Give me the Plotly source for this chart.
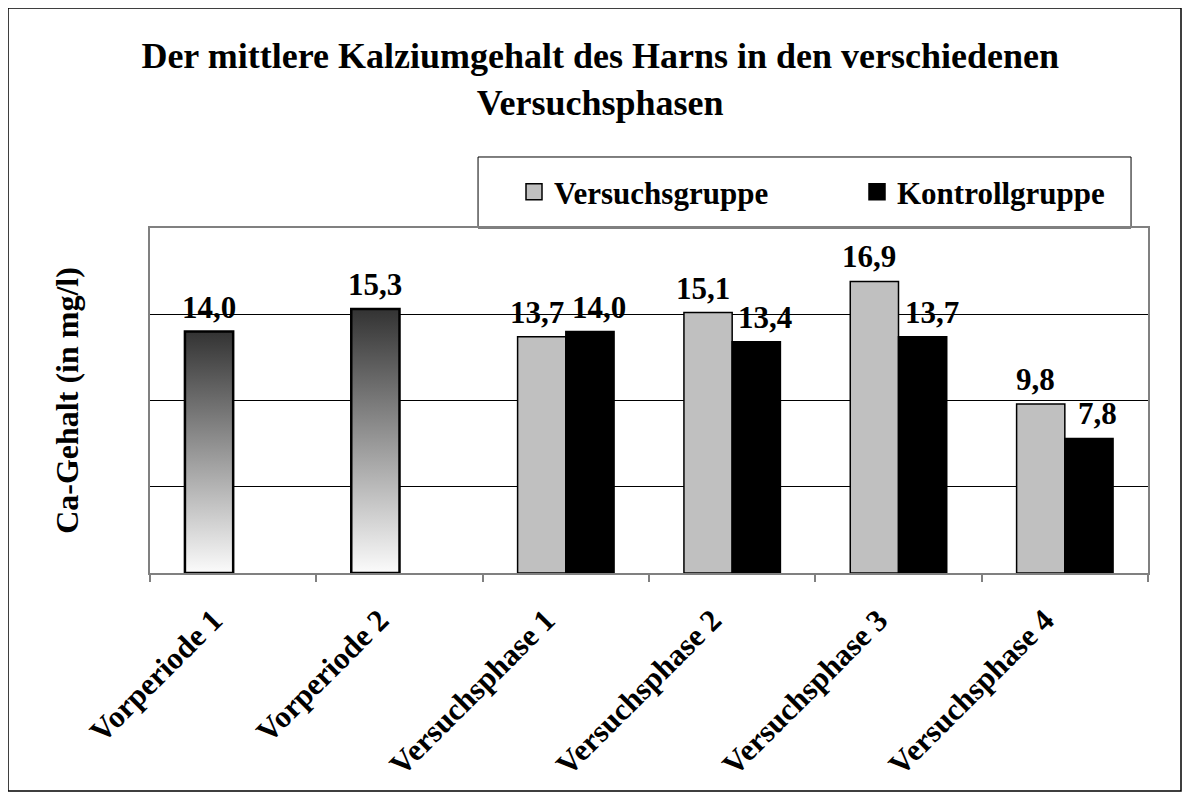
import plotly.graph_objects as go

categories = ["Vorperiode 1", "Vorperiode 2", "Versuchsphase 1",
              "Versuchsphase 2", "Versuchsphase 3", "Versuchsphase 4"]
vorperiode = [14.0, 15.3, None, None, None, None]
versuchsgruppe = [None, None, 13.7, 15.1, 16.9, 9.8]
kontrollgruppe = [None, None, 14.0, 13.4, 13.7, 7.8]

FONT = "Liberation Serif"
W = 0.29  # bar width in category units
pos = list(range(len(categories)))


def fmt(v):
    return f"{v:.1f}".replace(".", ",")


fig = go.Figure()

# gradient-filled bars of the pre-periods (white at the base, dark at the top)
for i, v in zip(pos, vorperiode):
    if v is None:
        continue
    fig.add_trace(go.Scatter(
        x=[i - W, i - W, i, i, i - W], y=[0, v, v, 0, 0],
        mode="lines", fill="toself",
        fillgradient=dict(type="vertical", start=0, stop=v,
                          colorscale=[[0, "#fbfbfb"], [1, "#333333"]]),
        line=dict(color="black", width=2.5),
        showlegend=False, hoverinfo="skip"))

fig.add_trace(go.Bar(
    name="Versuchsgruppe", x=pos, y=versuchsgruppe, width=W, offset=-W,
    marker=dict(color="#c0c0c0", line=dict(color="black", width=1.5)),
    showlegend=False))

fig.add_trace(go.Bar(
    name="Kontrollgruppe", x=pos, y=kontrollgruppe, width=W, offset=0,
    marker=dict(color="black", line=dict(color="black", width=1.5)),
    showlegend=False))

# legend entries with square swatches, one legend each so they sit where wanted
for name, col, leg in [("Versuchsgruppe", "#c0c0c0", "legend"),
                       ("Kontrollgruppe", "black", "legend2")]:
    fig.add_trace(go.Scatter(
        x=[None], y=[None], mode="markers", name=name, legend=leg,
        marker=dict(symbol="square", size=16, color=col,
                    line=dict(color="black", width=1.5))))

# value labels above the bars
lab_font = dict(family=FONT, size=31, color="black", weight="bold")
for series, dx, shift in [(vorperiode, -W / 2, 0), (versuchsgruppe, -W / 2, -5),
                          (kontrollgruppe, W / 2, 9)]:
    for i, v in zip(pos, series):
        if v is None:
            continue
        fig.add_annotation(x=i + dx, y=v, text=fmt(v), showarrow=False,
                           xanchor="center", yanchor="bottom", yshift=5,
                           xshift=shift, font=lab_font)

fig.update_xaxes(
    range=[-0.5, 5.5], tickmode="array", tickvals=[p - 0.12 for p in pos],
    ticktext=categories, tickangle=-45, ticks="", ticklabelstandoff=15,
    automargin=False,
    tickfont=dict(family=FONT, size=31, color="black", weight="bold"),
    showline=True, linecolor="#808080", linewidth=1.5, mirror=True,
    showgrid=False, zeroline=False,
    minor=dict(tickmode="array", tickvals=[p - 0.5 for p in pos] + [5.5],
               ticks="outside", ticklen=7, tickcolor="#808080", tickwidth=1.5,
               showgrid=False))

fig.update_yaxes(
    range=[0, 20], dtick=5, showticklabels=False, ticks="",
    showgrid=True, gridcolor="black", gridwidth=1, zeroline=False,
    showline=True, linecolor="#808080", linewidth=1.5, mirror=True,
    title=dict(text="Ca-Gehalt (in mg/l)", standoff=60,
               font=dict(family=FONT, size=32, color="black", weight="bold")))

# legend frame
fig.add_shape(type="rect", xref="paper", yref="paper",
              x0=0.3287, x1=0.983, y0=1.0, y1=1.2058,
              line=dict(color="black", width=1), layer="below")

# outer frame around the whole chart
fig.add_shape(type="rect", xref="paper", yref="paper",
              x0=-142 / 998, x1=(1173 - 142) / 998,
              y0=(565 - 783) / 345, y1=565 / 345,
              line=dict(color="black", width=1.5))

leg_common = dict(orientation="h", xanchor="left", y=1.1043, yanchor="middle",
                  borderwidth=0, bgcolor="rgba(0,0,0,0)",
                  font=dict(family=FONT, size=31, color="black", weight="bold"))

fig.update_layout(
    width=1182, height=784,
    margin=dict(l=142, r=42, t=220, b=219),
    barmode="overlay",
    paper_bgcolor="white", plot_bgcolor="white",
    font=dict(family=FONT, color="black"),
    title=dict(text="Der mittlere Kalziumgehalt des Harns in den verschiedenen<br>Versuchsphasen",
               x=0.501, xanchor="center", y=1 - 60 / 784, yanchor="top",
               font=dict(family=FONT, size=36, color="black", weight="bold")),
    legend=dict(x=(514 - 150) / 998, **leg_common),
    legend2=dict(x=(857 - 150) / 998, **leg_common),
)

fig.write_html("out.html")
